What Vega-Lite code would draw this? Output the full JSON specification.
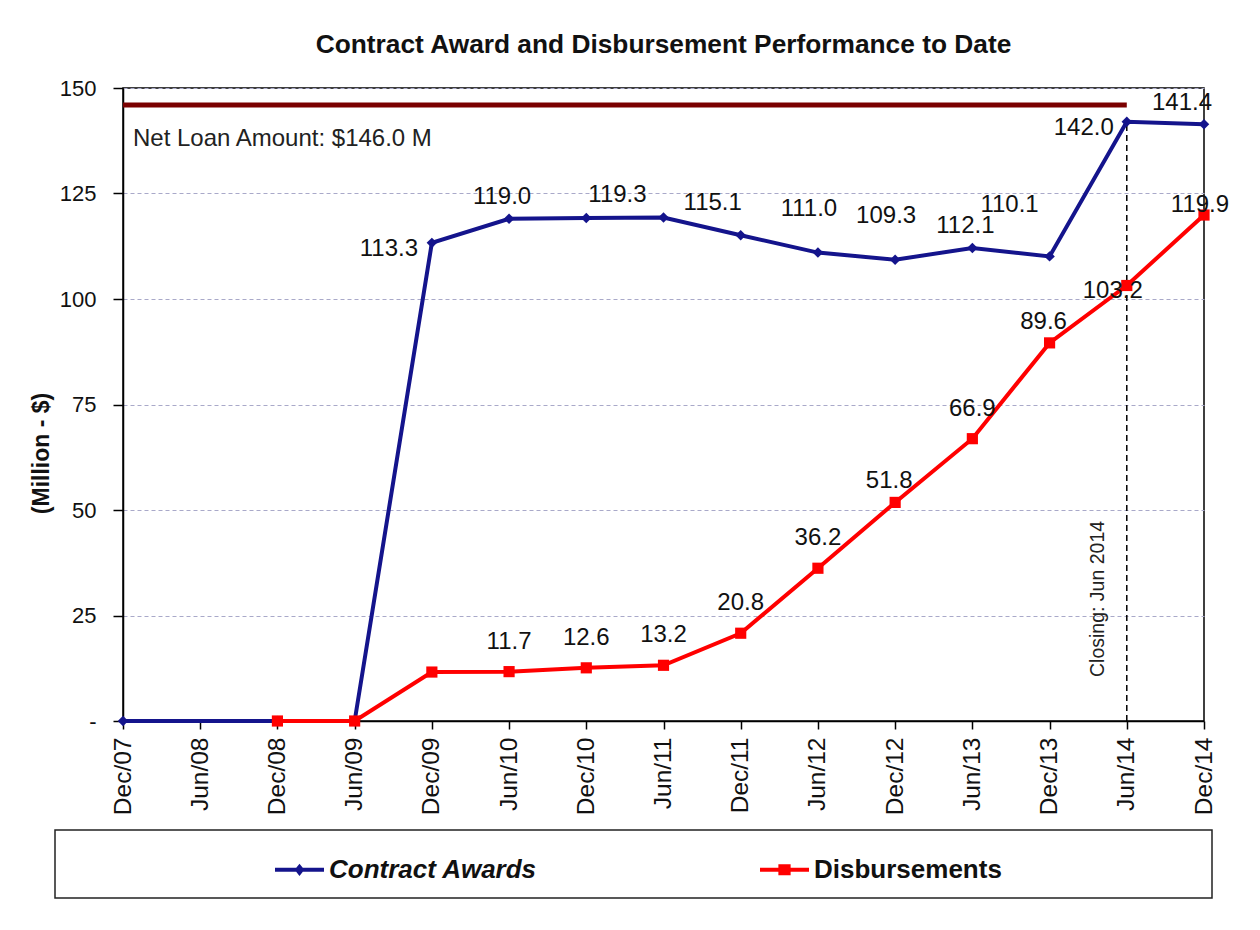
{
  "$schema": "https://vega.github.io/schema/vega-lite/v6.json",
  "width": 1081,
  "height": 633,
  "autosize": {"type": "none"},
  "padding": {"left": 123, "top": 88, "right": 56, "bottom": 209},
  "background": "#ffffff",
  "title": {"text": "Contract Award and Disbursement Performance to Date", "font": "Liberation Sans", "fontSize": 26.3, "fontWeight": "bold", "color": "#111111", "anchor": "middle", "baseline": "alphabetic", "offset": -2},
  "datasets": {
    "series": [
      {"date": "Dec/07", "series": "Contract Awards", "value": 0},
      {"date": "Dec/08", "series": "Contract Awards", "value": 0},
      {"date": "Jun/09", "series": "Contract Awards", "value": 0},
      {"date": "Dec/09", "series": "Contract Awards", "value": 113.3},
      {"date": "Jun/10", "series": "Contract Awards", "value": 119.0},
      {"date": "Dec/10", "series": "Contract Awards", "value": 119.2},
      {"date": "Jun/11", "series": "Contract Awards", "value": 119.3},
      {"date": "Dec/11", "series": "Contract Awards", "value": 115.1},
      {"date": "Jun/12", "series": "Contract Awards", "value": 111.0},
      {"date": "Dec/12", "series": "Contract Awards", "value": 109.3},
      {"date": "Jun/13", "series": "Contract Awards", "value": 112.1},
      {"date": "Dec/13", "series": "Contract Awards", "value": 110.1},
      {"date": "Jun/14", "series": "Contract Awards", "value": 142.0},
      {"date": "Dec/14", "series": "Contract Awards", "value": 141.4},
      {"date": "Dec/08", "series": "Disbursements", "value": 0},
      {"date": "Jun/09", "series": "Disbursements", "value": 0},
      {"date": "Dec/09", "series": "Disbursements", "value": 11.6},
      {"date": "Jun/10", "series": "Disbursements", "value": 11.7},
      {"date": "Dec/10", "series": "Disbursements", "value": 12.6},
      {"date": "Jun/11", "series": "Disbursements", "value": 13.2},
      {"date": "Dec/11", "series": "Disbursements", "value": 20.8},
      {"date": "Jun/12", "series": "Disbursements", "value": 36.2},
      {"date": "Dec/12", "series": "Disbursements", "value": 51.8},
      {"date": "Jun/13", "series": "Disbursements", "value": 66.9},
      {"date": "Dec/13", "series": "Disbursements", "value": 89.6},
      {"date": "Jun/14", "series": "Disbursements", "value": 103.2},
      {"date": "Dec/14", "series": "Disbursements", "value": 119.9}
    ],
    "netloan": [{"start": "Dec/07", "end": "Jun/14", "value": 146, "label": "Net Loan Amount: $146.0 M"}],
    "closing": [{"date": "Jun/14", "value": 0, "high": 142, "label": "Closing: Jun 2014"}]
  },
  "layer": [
    {
      "data": {"name": "netloan"},
      "mark": {"type": "rule", "color": "#7a0000", "strokeWidth": 5, "strokeCap": "butt"},
      "encoding": {
        "x": {"field": "start", "type": "ordinal", "sort": null, "title": null, "scale": {"type": "point", "padding": 0, "domain": ["Dec/07","Jun/08","Dec/08","Jun/09","Dec/09","Jun/10","Dec/10","Jun/11","Dec/11","Jun/12","Dec/12","Jun/13","Dec/13","Jun/14","Dec/14"]},
          "axis": {"labelAngle": -90, "labelFont": "Liberation Sans", "labelFontSize": 24.5, "labelColor": "#111111", "tickSize": 8, "tickColor": "#000000", "tickWidth": 1.5, "labelPadding": 8, "domainColor": "#000000", "domainWidth": 1.5, "labelOverlap": false, "grid": false}},
        "x2": {"field": "end"},
        "y": {"field": "value", "type": "quantitative", "title": "(Million - $)", "scale": {"domain": [0, 150], "nice": false},
          "axis": {"values": [0, 25, 50, 75, 100, 125, 150], "labelExpr": "datum.value === 0 ? '-' : datum.label", "labelFont": "Liberation Sans", "labelFontSize": 22, "labelColor": "#111111", "labelPadding": 17, "tickSize": 10, "tickColor": "#000000", "tickWidth": 1.5, "domainColor": "#000000", "domainWidth": 1.5, "grid": true, "gridColor": "#a9a9c9", "gridDash": [4, 3], "gridWidth": 1, "titleFont": "Liberation Sans", "titleFontSize": 23, "titleFontWeight": "bold", "titleColor": "#111111", "titleAngle": 270, "titleX": -82, "titleY": 365, "titleAlign": "center", "titleBaseline": "middle"}}
      }
    },
    {
      "data": {"name": "netloan"},
      "mark": {"type": "text", "align": "left", "baseline": "middle", "dx": 10, "dy": 34, "fontSize": 24, "font": "Liberation Sans", "color": "#222222"},
      "encoding": {
        "x": {"field": "start", "type": "ordinal", "sort": null, "title": null, "scale": {"type": "point", "padding": 0, "domain": ["Dec/07","Jun/08","Dec/08","Jun/09","Dec/09","Jun/10","Dec/10","Jun/11","Dec/11","Jun/12","Dec/12","Jun/13","Dec/13","Jun/14","Dec/14"]}},
        "y": {"field": "value", "type": "quantitative", "title": "(Million - $)", "scale": {"domain": [0, 150], "nice": false}},
        "text": {"field": "label", "type": "nominal"}
      }
    },
    {
      "data": {"name": "closing"},
      "mark": {"type": "rule", "color": "#000000", "strokeWidth": 1.5, "strokeDash": [6, 4]},
      "encoding": {
        "x": {"field": "date", "type": "ordinal", "sort": null, "title": null, "scale": {"type": "point", "padding": 0, "domain": ["Dec/07","Jun/08","Dec/08","Jun/09","Dec/09","Jun/10","Dec/10","Jun/11","Dec/11","Jun/12","Dec/12","Jun/13","Dec/13","Jun/14","Dec/14"]}},
        "y": {"field": "value", "type": "quantitative", "title": "(Million - $)", "scale": {"domain": [0, 150], "nice": false}},
        "y2": {"field": "high"}
      }
    },
    {
      "data": {"name": "closing"},
      "mark": {"type": "text", "angle": 270, "align": "left", "baseline": "middle", "dx": 44, "dy": -29, "fontSize": 19.5, "font": "Liberation Sans", "color": "#222222"},
      "encoding": {
        "x": {"field": "date", "type": "ordinal", "sort": null, "title": null, "scale": {"type": "point", "padding": 0, "domain": ["Dec/07","Jun/08","Dec/08","Jun/09","Dec/09","Jun/10","Dec/10","Jun/11","Dec/11","Jun/12","Dec/12","Jun/13","Dec/13","Jun/14","Dec/14"]}},
        "y": {"field": "value", "type": "quantitative", "title": "(Million - $)", "scale": {"domain": [0, 150], "nice": false}},
        "text": {"field": "label", "type": "nominal"}
      }
    },
    {
      "data": {"name": "series"},
      "mark": {"type": "line", "strokeWidth": 4},
      "encoding": {
        "x": {"field": "date", "type": "ordinal", "sort": null, "title": null, "scale": {"type": "point", "padding": 0, "domain": ["Dec/07","Jun/08","Dec/08","Jun/09","Dec/09","Jun/10","Dec/10","Jun/11","Dec/11","Jun/12","Dec/12","Jun/13","Dec/13","Jun/14","Dec/14"]}},
        "y": {"field": "value", "type": "quantitative", "title": "(Million - $)", "scale": {"domain": [0, 150], "nice": false}},
        "order": {"value": null},
        "color": {"field": "series", "type": "nominal",
          "scale": {"domain": ["Contract Awards", "Disbursements"], "range": ["#14148c", "#ff0000"]},
          "legend": {
            "orient": "none", "legendX": -68, "legendY": 742, "direction": "horizontal",
            "title": "\u00a0", "titleOrient": "left", "titleFontSize": 1, "titlePadding": 205,
            "padding": 15, "strokeColor": "#222222",
            "columnPadding": 222, "symbolSize": 2401, "labelOffset": 5,
            "labelFont": "Liberation Sans", "labelFontSize": 26, "labelFontWeight": "bold", "labelColor": "#111111", "labelLimit": 1000, "labelBaseline": "middle",
            "labelExpr": "datum.value === 'Disbursements' ? datum.label + '\u00a0\u00a0\u00a0\u00a0\u00a0\u00a0\u00a0\u00a0\u00a0\u00a0\u00a0\u00a0\u00a0\u00a0\u00a0\u00a0\u00a0\u00a0\u00a0\u00a0\u00a0\u00a0\u00a0\u00a0\u00a0\u00a0\u00a0\u200b' : datum.label",
            "encode": {
              "legend": {"update": {"strokeWidth": {"value": 1.5}}},
              "symbols": {"update": {
                "shape": {"signal": "datum.value === 'Contract Awards' ? 'M-1,-0.082H1V0.082H-1Z M0,-0.25L0.2,0L0,0.25L-0.2,0Z' : 'M-1,-0.082H1V0.082H-1Z M-0.25,-0.22H0.25V0.22H-0.25Z'"},
                "fill": {"scale": "color", "field": "value"},
                "stroke": {"value": "transparent"},
                "strokeWidth": {"value": 0},
                "opacity": {"value": 1}
              }},
              "labels": {"update": {"fontStyle": {"signal": "datum.value === 'Contract Awards' ? 'italic' : 'normal'"}}}
            }
          }
        }
      }
    },
    {
      "data": {"name": "series"},
      "transform": [{"filter": {"field": "series", "equal": "Contract Awards"}}],
      "mark": {"type": "point", "shape": "diamond", "filled": true, "size": 110, "color": "#14148c", "opacity": 1},
      "encoding": {
        "x": {"field": "date", "type": "ordinal", "sort": null, "title": null, "scale": {"type": "point", "padding": 0, "domain": ["Dec/07","Jun/08","Dec/08","Jun/09","Dec/09","Jun/10","Dec/10","Jun/11","Dec/11","Jun/12","Dec/12","Jun/13","Dec/13","Jun/14","Dec/14"]}},
        "y": {"field": "value", "type": "quantitative", "title": "(Million - $)", "scale": {"domain": [0, 150], "nice": false}}
      }
    },
    {
      "data": {"name": "series"},
      "transform": [{"filter": {"field": "series", "equal": "Disbursements"}}],
      "mark": {"type": "point", "shape": "square", "filled": true, "size": 125, "color": "#ff0000", "opacity": 1},
      "encoding": {
        "x": {"field": "date", "type": "ordinal", "sort": null, "title": null, "scale": {"type": "point", "padding": 0, "domain": ["Dec/07","Jun/08","Dec/08","Jun/09","Dec/09","Jun/10","Dec/10","Jun/11","Dec/11","Jun/12","Dec/12","Jun/13","Dec/13","Jun/14","Dec/14"]}},
        "y": {"field": "value", "type": "quantitative", "title": "(Million - $)", "scale": {"domain": [0, 150], "nice": false}}
      }
    },
    {
      "data": {"name": "series"},
      "transform": [{"filter": {"and": [{"field": "series", "equal": "Contract Awards"}, {"field": "date", "oneOf": ["Dec/09", "Jun/14"]}]}}],
      "mark": {"type": "text", "fontSize": 24, "font": "Liberation Sans", "color": "#111111", "baseline": "middle", "dx": -43, "dy": 6},
      "encoding": {
        "x": {"field": "date", "type": "ordinal", "sort": null, "title": null, "scale": {"type": "point", "padding": 0, "domain": ["Dec/07","Jun/08","Dec/08","Jun/09","Dec/09","Jun/10","Dec/10","Jun/11","Dec/11","Jun/12","Dec/12","Jun/13","Dec/13","Jun/14","Dec/14"]}},
        "y": {"field": "value", "type": "quantitative", "title": "(Million - $)", "scale": {"domain": [0, 150], "nice": false}},
        "text": {"field": "value", "type": "quantitative", "format": ".1f"}
      }
    },
    {
      "data": {"name": "series"},
      "transform": [{"filter": {"and": [{"field": "series", "equal": "Contract Awards"}, {"field": "date", "oneOf": ["Jun/10", "Jun/13"]}]}}],
      "mark": {"type": "text", "fontSize": 24, "font": "Liberation Sans", "color": "#111111", "baseline": "middle", "dx": -7, "dy": -22},
      "encoding": {
        "x": {"field": "date", "type": "ordinal", "sort": null, "title": null, "scale": {"type": "point", "padding": 0, "domain": ["Dec/07","Jun/08","Dec/08","Jun/09","Dec/09","Jun/10","Dec/10","Jun/11","Dec/11","Jun/12","Dec/12","Jun/13","Dec/13","Jun/14","Dec/14"]}},
        "y": {"field": "value", "type": "quantitative", "title": "(Million - $)", "scale": {"domain": [0, 150], "nice": false}},
        "text": {"field": "value", "type": "quantitative", "format": ".1f"}
      }
    },
    {
      "data": {"name": "series"},
      "transform": [{"filter": {"and": [{"field": "series", "equal": "Contract Awards"}, {"field": "date", "oneOf": ["Jun/12", "Dec/12"]}]}}],
      "mark": {"type": "text", "fontSize": 24, "font": "Liberation Sans", "color": "#111111", "baseline": "middle", "dx": -9, "dy": -44},
      "encoding": {
        "x": {"field": "date", "type": "ordinal", "sort": null, "title": null, "scale": {"type": "point", "padding": 0, "domain": ["Dec/07","Jun/08","Dec/08","Jun/09","Dec/09","Jun/10","Dec/10","Jun/11","Dec/11","Jun/12","Dec/12","Jun/13","Dec/13","Jun/14","Dec/14"]}},
        "y": {"field": "value", "type": "quantitative", "title": "(Million - $)", "scale": {"domain": [0, 150], "nice": false}},
        "text": {"field": "value", "type": "quantitative", "format": ".1f"}
      }
    },
    {
      "data": {"name": "series"},
      "transform": [{"filter": {"and": [{"field": "series", "equal": "Contract Awards"}, {"field": "date", "oneOf": ["Jun/11"]}]}}],
      "mark": {"type": "text", "fontSize": 24, "font": "Liberation Sans", "color": "#111111", "baseline": "middle", "dx": -46, "dy": -23},
      "encoding": {
        "x": {"field": "date", "type": "ordinal", "sort": null, "title": null, "scale": {"type": "point", "padding": 0, "domain": ["Dec/07","Jun/08","Dec/08","Jun/09","Dec/09","Jun/10","Dec/10","Jun/11","Dec/11","Jun/12","Dec/12","Jun/13","Dec/13","Jun/14","Dec/14"]}},
        "y": {"field": "value", "type": "quantitative", "title": "(Million - $)", "scale": {"domain": [0, 150], "nice": false}},
        "text": {"field": "value", "type": "quantitative", "format": ".1f"}
      }
    },
    {
      "data": {"name": "series"},
      "transform": [{"filter": {"and": [{"field": "series", "equal": "Contract Awards"}, {"field": "date", "oneOf": ["Dec/14"]}]}}],
      "mark": {"type": "text", "fontSize": 24, "font": "Liberation Sans", "color": "#111111", "baseline": "middle", "dx": -22, "dy": -21},
      "encoding": {
        "x": {"field": "date", "type": "ordinal", "sort": null, "title": null, "scale": {"type": "point", "padding": 0, "domain": ["Dec/07","Jun/08","Dec/08","Jun/09","Dec/09","Jun/10","Dec/10","Jun/11","Dec/11","Jun/12","Dec/12","Jun/13","Dec/13","Jun/14","Dec/14"]}},
        "y": {"field": "value", "type": "quantitative", "title": "(Million - $)", "scale": {"domain": [0, 150], "nice": false}},
        "text": {"field": "value", "type": "quantitative", "format": ".1f"}
      }
    },
    {
      "data": {"name": "series"},
      "transform": [{"filter": {"and": [{"field": "series", "equal": "Contract Awards"}, {"field": "date", "oneOf": ["Dec/11"]}]}}],
      "mark": {"type": "text", "fontSize": 24, "font": "Liberation Sans", "color": "#111111", "baseline": "middle", "dx": -28, "dy": -32},
      "encoding": {
        "x": {"field": "date", "type": "ordinal", "sort": null, "title": null, "scale": {"type": "point", "padding": 0, "domain": ["Dec/07","Jun/08","Dec/08","Jun/09","Dec/09","Jun/10","Dec/10","Jun/11","Dec/11","Jun/12","Dec/12","Jun/13","Dec/13","Jun/14","Dec/14"]}},
        "y": {"field": "value", "type": "quantitative", "title": "(Million - $)", "scale": {"domain": [0, 150], "nice": false}},
        "text": {"field": "value", "type": "quantitative", "format": ".1f"}
      }
    },
    {
      "data": {"name": "series"},
      "transform": [{"filter": {"and": [{"field": "series", "equal": "Contract Awards"}, {"field": "date", "oneOf": ["Dec/13"]}]}}],
      "mark": {"type": "text", "fontSize": 24, "font": "Liberation Sans", "color": "#111111", "baseline": "middle", "dx": -40, "dy": -51},
      "encoding": {
        "x": {"field": "date", "type": "ordinal", "sort": null, "title": null, "scale": {"type": "point", "padding": 0, "domain": ["Dec/07","Jun/08","Dec/08","Jun/09","Dec/09","Jun/10","Dec/10","Jun/11","Dec/11","Jun/12","Dec/12","Jun/13","Dec/13","Jun/14","Dec/14"]}},
        "y": {"field": "value", "type": "quantitative", "title": "(Million - $)", "scale": {"domain": [0, 150], "nice": false}},
        "text": {"field": "value", "type": "quantitative", "format": ".1f"}
      }
    },
    {
      "data": {"name": "series"},
      "transform": [{"filter": {"and": [{"field": "series", "equal": "Disbursements"}, {"field": "date", "oneOf": ["Jun/10", "Dec/10", "Jun/11", "Dec/11", "Jun/12", "Jun/13"]}]}}],
      "mark": {"type": "text", "fontSize": 24, "font": "Liberation Sans", "color": "#111111", "baseline": "middle", "dx": 0, "dy": -30},
      "encoding": {
        "x": {"field": "date", "type": "ordinal", "sort": null, "title": null, "scale": {"type": "point", "padding": 0, "domain": ["Dec/07","Jun/08","Dec/08","Jun/09","Dec/09","Jun/10","Dec/10","Jun/11","Dec/11","Jun/12","Dec/12","Jun/13","Dec/13","Jun/14","Dec/14"]}},
        "y": {"field": "value", "type": "quantitative", "title": "(Million - $)", "scale": {"domain": [0, 150], "nice": false}},
        "text": {"field": "value", "type": "quantitative", "format": ".1f"}
      }
    },
    {
      "data": {"name": "series"},
      "transform": [{"filter": {"and": [{"field": "series", "equal": "Disbursements"}, {"field": "date", "oneOf": ["Dec/12", "Dec/13"]}]}}],
      "mark": {"type": "text", "fontSize": 24, "font": "Liberation Sans", "color": "#111111", "baseline": "middle", "dx": -6, "dy": -21},
      "encoding": {
        "x": {"field": "date", "type": "ordinal", "sort": null, "title": null, "scale": {"type": "point", "padding": 0, "domain": ["Dec/07","Jun/08","Dec/08","Jun/09","Dec/09","Jun/10","Dec/10","Jun/11","Dec/11","Jun/12","Dec/12","Jun/13","Dec/13","Jun/14","Dec/14"]}},
        "y": {"field": "value", "type": "quantitative", "title": "(Million - $)", "scale": {"domain": [0, 150], "nice": false}},
        "text": {"field": "value", "type": "quantitative", "format": ".1f"}
      }
    },
    {
      "data": {"name": "series"},
      "transform": [{"filter": {"and": [{"field": "series", "equal": "Disbursements"}, {"field": "date", "oneOf": ["Jun/14"]}]}}],
      "mark": {"type": "text", "fontSize": 24, "font": "Liberation Sans", "color": "#111111", "baseline": "middle", "dx": -14, "dy": 6},
      "encoding": {
        "x": {"field": "date", "type": "ordinal", "sort": null, "title": null, "scale": {"type": "point", "padding": 0, "domain": ["Dec/07","Jun/08","Dec/08","Jun/09","Dec/09","Jun/10","Dec/10","Jun/11","Dec/11","Jun/12","Dec/12","Jun/13","Dec/13","Jun/14","Dec/14"]}},
        "y": {"field": "value", "type": "quantitative", "title": "(Million - $)", "scale": {"domain": [0, 150], "nice": false}},
        "text": {"field": "value", "type": "quantitative", "format": ".1f"}
      }
    },
    {
      "data": {"name": "series"},
      "transform": [{"filter": {"and": [{"field": "series", "equal": "Disbursements"}, {"field": "date", "oneOf": ["Dec/14"]}]}}],
      "mark": {"type": "text", "fontSize": 24, "font": "Liberation Sans", "color": "#111111", "baseline": "middle", "dx": -4, "dy": -10},
      "encoding": {
        "x": {"field": "date", "type": "ordinal", "sort": null, "title": null, "scale": {"type": "point", "padding": 0, "domain": ["Dec/07","Jun/08","Dec/08","Jun/09","Dec/09","Jun/10","Dec/10","Jun/11","Dec/11","Jun/12","Dec/12","Jun/13","Dec/13","Jun/14","Dec/14"]}},
        "y": {"field": "value", "type": "quantitative", "title": "(Million - $)", "scale": {"domain": [0, 150], "nice": false}},
        "text": {"field": "value", "type": "quantitative", "format": ".1f"}
      }
    }
  ],
  "config": {
    "font": "Liberation Sans",
    "view": {"stroke": "#000000", "strokeWidth": 1.5},
    "text": {"font": "Liberation Sans"}
  }
}
